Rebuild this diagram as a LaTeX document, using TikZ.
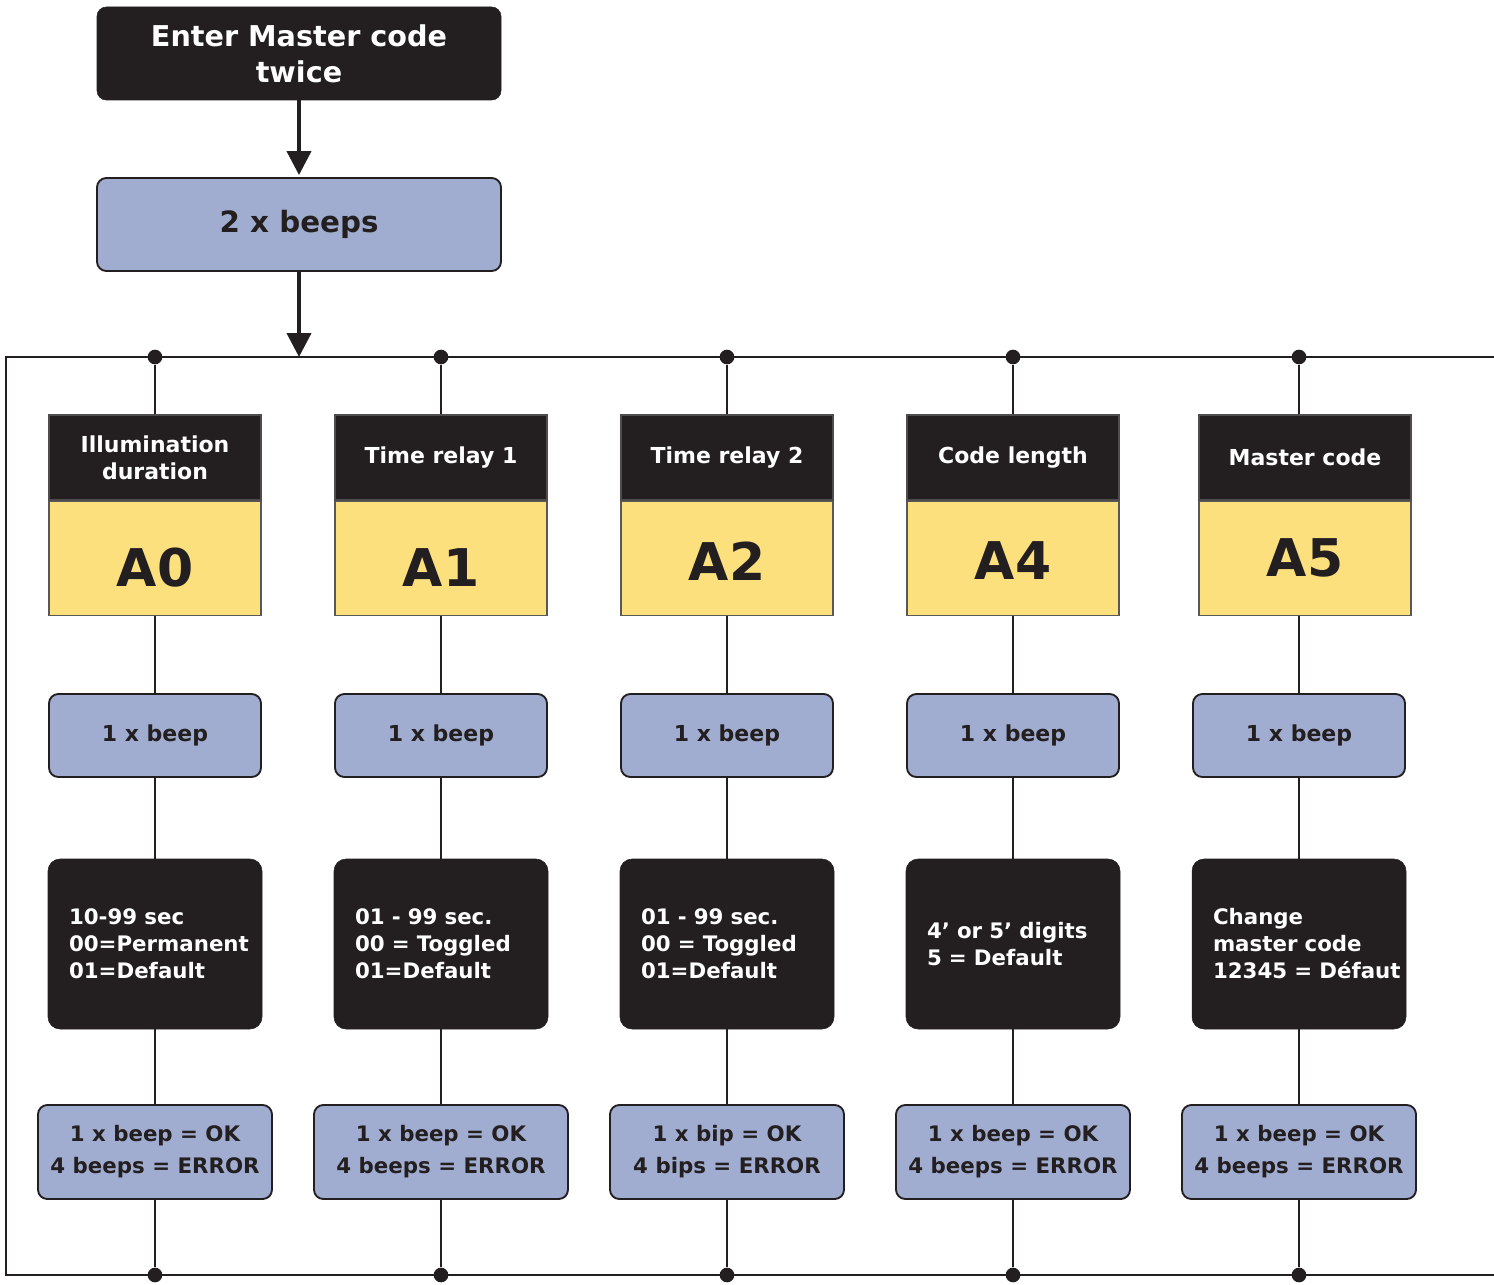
\documentclass[tikz,border=0pt]{standalone}
\usepackage{fontspec}
\setmainfont{DejaVu Sans}[BoldFont={DejaVu Sans Bold}]
\usetikzlibrary{arrows.meta}
\definecolor{ink}{HTML}{231F20}
\definecolor{bluebox}{HTML}{A1ADD0}
\definecolor{yell}{HTML}{FCE07D}
\tikzset{
  darkbox/.style={fill=ink, draw=ink, text=white, rounded corners=7pt, font=\bfseries, align=center, inner sep=0pt},
  bluebx/.style={fill=bluebox, draw=ink, line width=1.4pt, text=ink, rounded corners=7pt, font=\bfseries, align=center, inner sep=0pt},
  hdrbox/.style={fill=ink, draw=ink!80, line width=1pt, text=white, font=\bfseries\fontsize{16.5pt}{20pt}\selectfont, align=center, inner sep=0pt, minimum width=159pt, minimum height=63.75pt},
  codebox/.style={fill=yell, draw=ink!75, line width=1.1pt, inner sep=0pt, minimum width=159pt, anchor=north},
  codefont/.style={font=\bfseries\fontsize{39pt}{39pt}\selectfont, text=ink},
  dot/.style={circle, fill=ink, inner sep=0pt, minimum size=11pt},
  conn/.style={draw=ink, line width=1.5pt},
  bigarrow/.style={draw=ink, line width=3pt, -{Triangle[width=18pt,length=18pt]}},
  beepbox/.style={bluebx, font=\bfseries\fontsize{16.5pt}{20pt}\selectfont, minimum width=159pt, minimum height=62.25pt},
  infobox/.style={darkbox, rounded corners=9pt, align=left, text width=129pt, inner xsep=15.75pt, inner ysep=0pt, font=\bfseries\fontsize{16pt}{20.25pt}\selectfont, minimum width=160.5pt, minimum height=127.5pt},
  resbox/.style={bluebx, font=\bfseries\fontsize{16pt}{24pt}\selectfont, minimum height=70.5pt},
}
\begin{document}
\begin{tikzpicture}[x=0.75pt,y=-0.75pt]
\useasboundingbox (0,0) rectangle (1494,1284);
% top flow
\node[darkbox, font=\bfseries\fontsize{21.5pt}{27pt}\selectfont, minimum width=303pt, minimum height=69.75pt] (enter) at (299,53.5) {Enter Master code\\twice};
\node[bluebx, font=\bfseries\fontsize{22pt}{26pt}\selectfont, minimum width=303pt, minimum height=69.75pt] (beeps2) at (299,224.5) {2 x beeps};
\coordinate (busTL) at (6,357);
\coordinate (busTR) at (1494,357);
\coordinate (busBL) at (6,1275);
\coordinate (busBR) at (1494,1275);
\coordinate (busin) at (299,357);
\draw[conn] (busTR) -- (busTL) -- (busBL) -- (busBR);
\draw[bigarrow] (enter.south) -- ([yshift=1.5pt]beeps2.north);
\draw[bigarrow] (beeps2.south) -- (busin);
% columns
\foreach \i/\x/\hx/\ycode/\htext/\code/\info/\res/\rw in {
  0/155/155/568/{Illumination\\duration}/A0/{\mbox{10-99 sec}\\\mbox{00=Permanent}\\\mbox{01=Default}}/{1 x beep = OK\\4 beeps = ERROR}/175.5pt,
  1/441/441/568/{Time relay 1}/A1/{\mbox{01 - 99 sec.}\\\mbox{00 = Toggled}\\\mbox{01=Default}}/{1 x beep = OK\\4 beeps = ERROR}/190.5pt,
  2/727/727/561/{Time relay 2}/A2/{\mbox{01 - 99 sec.}\\\mbox{00 = Toggled}\\\mbox{01=Default}}/{1 x bip = OK\\4 bips = ERROR}/175.5pt,
  3/1013/1013/561/{Code length}/A4/{\mbox{4’ or 5’ digits}\\\mbox{5 = Default}}/{1 x beep = OK\\4 beeps = ERROR}/175.5pt,
  4/1299/1305/558/{Master code}/A5/{\mbox{Change}\\\mbox{master code}\\\mbox{12345 = Défaut}}/{1 x beep = OK\\4 beeps = ERROR}/175.5pt}{
  \node[dot] (tdot\i) at (\x,357) {};
  \node[dot] (bdot\i) at (\x,1275) {};
  \node[hdrbox] (hdr\i) at (\hx,457.5) {\htext};
  \node[codebox, minimum height=85.5pt] (code\i) at (hdr\i.south) {};
  \node[codefont] (codet\i) at (\hx,\ycode) {\code};
  \node[beepbox] (beep\i) at (\x,735.5) {1 x beep};
  \node[infobox] (info\i) at (\x,944) {\info};
  \node[resbox, minimum width=\rw] (res\i) at (\x,1152) {\res};
  \draw[conn] (tdot\i) -- (tdot\i |- hdr\i.north);
  \draw[conn] (beep\i.north |- code\i.south) -- (beep\i.north);
  \draw[conn] (beep\i) -- (info\i);
  \draw[conn] (info\i) -- (res\i);
  \draw[conn] (res\i) -- (bdot\i);
}
\end{tikzpicture}
\end{document}
